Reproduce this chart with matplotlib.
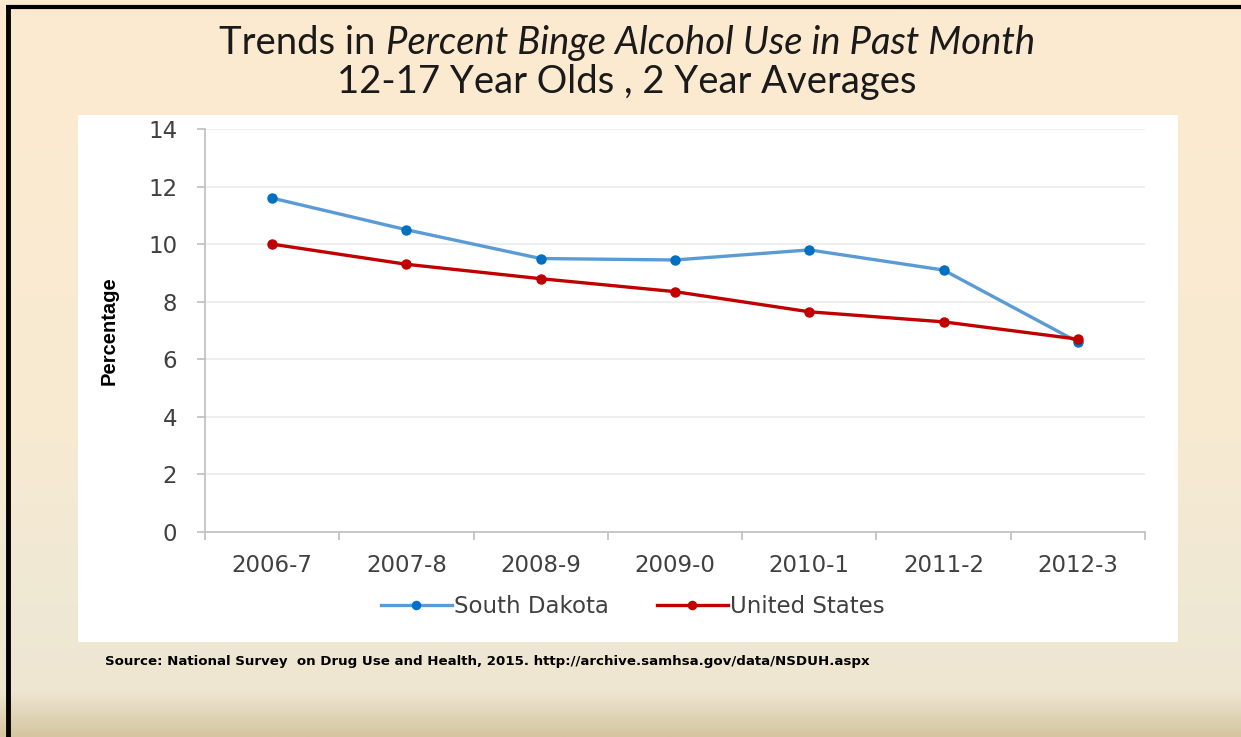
import matplotlib
matplotlib.use('Agg')
import matplotlib.pyplot as plt
from matplotlib.colors import LinearSegmentedColormap
import numpy as np

periodos = ['2006-7', '2007-8', '2008-9', '2009-0', '2010-1', '2011-2', '2012-3']
south_dakota = [11.6, 10.5, 9.5, 9.45, 9.8, 9.1, 6.6]
united_states = [10.0, 9.3, 8.8, 8.35, 7.65, 7.3, 6.7]
yticks = [0, 2, 4, 6, 8, 10, 12, 14]

W, H = 1241, 737


def caixa(x0, y0, x1, y1):
    # converte pixels (origem no topo) para fracoes da figura
    return [x0 / W, 1 - y1 / H, (x1 - x0) / W, (y1 - y0) / H]


fig = plt.figure(figsize=(W / 100, H / 100), dpi=100)

# fundo com gradiente
fundo = fig.add_axes([0, 0, 1, 1], zorder=0)
cmap = LinearSegmentedColormap.from_list(
    'fundo', [(0, '#FDEBD0'), (0.60, '#F7EAD2'), (0.82, '#EFE8D4'),
              (0.94, '#EEE6D1'), (1.0, '#D5C6A1')])
grad = np.linspace(0, 1, 256).reshape(-1, 1)
fundo.imshow(grad, aspect='auto', cmap=cmap, extent=[0, 1, 0, 1], origin='upper')
fundo.plot([8 / W, 8 / W], [0, 1 - 5 / H], color='black', lw=3.5, solid_capstyle='butt')
fundo.plot([6 / W, 1], [1 - 7 / H, 1 - 7 / H], color='black', lw=3, solid_capstyle='butt')
fundo.set_xlim(0, 1)
fundo.set_ylim(0, 1)
fundo.axis('off')

# painel branco
painel = fig.add_axes(caixa(78, 115, 1178, 642), zorder=1)
painel.set_facecolor('white')
painel.set_xticks([])
painel.set_yticks([])
for s in painel.spines.values():
    s.set_visible(False)

# titulo: parte normal + parte italica, centralizadas juntas
fonte_titulo = dict(fontsize=27.5, family='Lato', va='center', color='#1a1a1a')
t1 = fig.text(0, 1 - 43 / H, 'Trends in ', ha='left', **fonte_titulo)
t2 = fig.text(0, 1 - 43 / H, 'Percent Binge Alcohol Use in Past Month', ha='left',
              style='italic', **fonte_titulo)
fig.canvas.draw()
r = fig.canvas.get_renderer()
w1 = t1.get_window_extent(r).width
w2 = t2.get_window_extent(r).width
x0 = 627 - (w1 + w2) / 2
t1.set_x(x0 / W)
t2.set_x((x0 + w1) / W)
fig.text(627 / W, 1 - 82 / H, '12-17 Year Olds , 2 Year Averages', ha='center', **fonte_titulo)

ax = fig.add_axes(caixa(205, 129, 1145, 532), zorder=2)
ax.patch.set_alpha(0)
x = np.arange(len(periodos))
ax.plot(x, south_dakota, color='#5B9BD5', lw=2.4, marker='o', ms=6.5,
        mfc='#0070C0', mec='#0070C0', label='South Dakota')
ax.plot(x, united_states, color='#C00000', lw=2.4, marker='o', ms=6.5,
        mfc='#C00000', mec='#C00000', label='United States')
ax.set_xlim(-0.5, len(periodos) - 0.5)
ax.set_ylim(0, 14)
ax.set_yticks(yticks)
ax.set_xticks(x)
ax.set_xticklabels(periodos)
ax.set_xticks(np.arange(-0.5, len(periodos)), minor=True)
ax.tick_params(axis='x', which='major', length=0, pad=16, labelsize=16.5, labelcolor='#404040')
ax.tick_params(axis='x', which='minor', length=6, color='#BFBFBF', width=1.2)
ax.tick_params(axis='y', length=6, color='#BFBFBF', width=1.2, pad=14,
               labelsize=16.5, labelcolor='#404040')
ax.grid(axis='y', color='#EBEBEB', lw=1.2)
ax.set_axisbelow(True)
for lado in ['top', 'right']:
    ax.spines[lado].set_visible(False)
for lado in ['left', 'bottom']:
    ax.spines[lado].set_color('#BFBFBF')
    ax.spines[lado].set_linewidth(1.2)
ax.set_ylabel('Percentage', fontsize=14.5, fontweight='bold', family='Liberation Sans',
              labelpad=21, color='black')

ax.legend(loc='center', bbox_to_anchor=(0.455, -0.185), ncol=2, frameon=False,
          fontsize=16.5, labelcolor='#404040', handlelength=3.1, handletextpad=0.1,
          columnspacing=2.1, markerscale=0.9)

fig.text(105 / W, 1 - 662 / H,
         'Source: National Survey  on Drug Use and Health, 2015. http://archive.samhsa.gov/data/NSDUH.aspx',
         fontsize=9.6, fontweight='bold', family='DejaVu Sans', ha='left', va='center', color='black')

fig.savefig('out.png', dpi=100)
